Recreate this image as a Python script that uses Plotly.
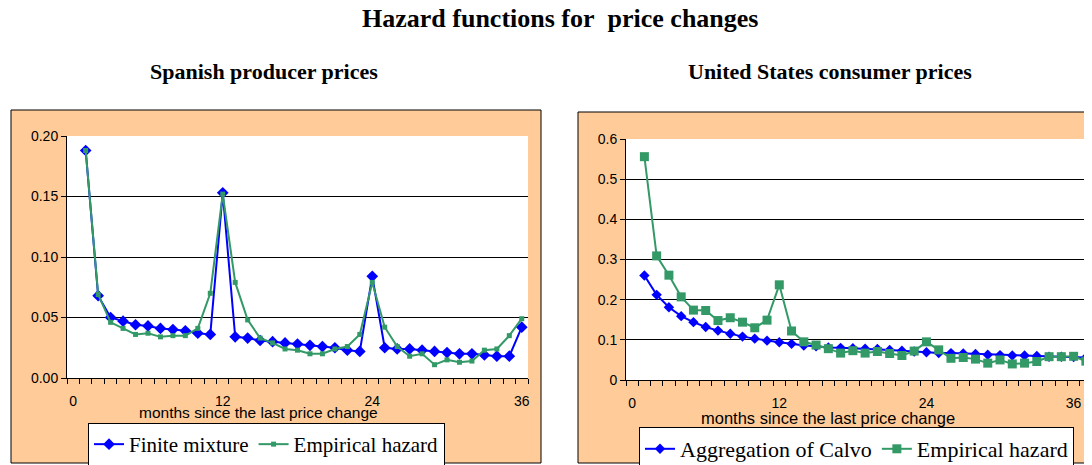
"""
Hazard functions for price changes: Spanish PPI vs US CPI, two Excel-style panels.
"""

import plotly.graph_objects as go

# the page body has an 8px margin, so the figure is shrunk by that much
OFF = 8
W, H = 1092 - OFF, 465 - OFF

# ---- data -------------------------------------------------------------
months_es = list(range(1, 37))
finite_mixture = [
    0.188, 0.068, 0.050, 0.047, 0.044, 0.043, 0.041, 0.040, 0.039, 0.037,
    0.036, 0.153, 0.034, 0.033, 0.031, 0.030, 0.029, 0.028, 0.027, 0.026,
    0.025, 0.023, 0.022, 0.084, 0.025, 0.024, 0.024, 0.023, 0.022, 0.021,
    0.020, 0.020, 0.019, 0.018, 0.018, 0.042,
]
empirical_es = [
    0.188, 0.069, 0.046, 0.041, 0.036, 0.037, 0.034, 0.035, 0.035, 0.041,
    0.070, 0.152, 0.079, 0.048, 0.033, 0.029, 0.024, 0.023, 0.020, 0.020,
    0.024, 0.026, 0.036, 0.079, 0.042, 0.026, 0.018, 0.020, 0.011, 0.015,
    0.013, 0.014, 0.023, 0.024, 0.035, 0.049,
]

months_us = list(range(1, 38))
calvo_agg = [
    0.260, 0.212, 0.181, 0.159, 0.144, 0.132, 0.123, 0.115, 0.108, 0.103,
    0.098, 0.094, 0.090, 0.086, 0.084, 0.081, 0.080, 0.079, 0.078, 0.077,
    0.075, 0.073, 0.071, 0.069, 0.067, 0.067, 0.066, 0.065, 0.063, 0.062,
    0.061, 0.061, 0.060, 0.058, 0.058, 0.057, 0.056,
]
empirical_us = [
    0.556, 0.309, 0.261, 0.207, 0.174, 0.173, 0.148, 0.155, 0.144, 0.130,
    0.149, 0.237, 0.122, 0.095, 0.087, 0.078, 0.067, 0.073, 0.067, 0.071,
    0.066, 0.061, 0.072, 0.095, 0.075, 0.054, 0.056, 0.052, 0.042, 0.050,
    0.040, 0.042, 0.046, 0.058, 0.058, 0.059, 0.047,
]

x_ticks = [0, 12, 24, 36]
y_ticks_es = [0.0, 0.05, 0.10, 0.15, 0.20]
y_ticks_us = [0, 0.1, 0.2, 0.3, 0.4, 0.5, 0.6]


def px_x(v):
    return (v - OFF) / W


def px_y(v):
    return 1 - (v - OFF) / H


BLUE = "#0000FF"
GREEN = "#339966"
ORANGE = "#FFCC99"
SANS = "Arial, Liberation Sans, sans-serif"
SERIF = "Times New Roman, Liberation Serif, serif"

fig = go.Figure()

fig.add_trace(go.Scatter(
    x=months_es, y=finite_mixture, name="Finite mixture", mode="lines+markers",
    line=dict(color=BLUE, width=2), marker=dict(symbol="diamond", size=9, color=BLUE),
    xaxis="x", yaxis="y", legend="legend",
))
fig.add_trace(go.Scatter(
    x=months_es, y=empirical_es, name="Empirical hazard", mode="lines+markers",
    line=dict(color=GREEN, width=2), marker=dict(symbol="square", size=5, color=GREEN),
    xaxis="x", yaxis="y", legend="legend",
))
fig.add_trace(go.Scatter(
    x=months_us, y=calvo_agg, name="Aggregation of Calvo", mode="lines+markers",
    line=dict(color=BLUE, width=2), marker=dict(symbol="diamond", size=8, color=BLUE),
    xaxis="x2", yaxis="y2", legend="legend2",
))
fig.add_trace(go.Scatter(
    x=months_us, y=empirical_us, name="Empirical hazard", mode="lines+markers",
    line=dict(color=GREEN, width=2), marker=dict(symbol="square", size=9, color=GREEN),
    xaxis="x2", yaxis="y2", legend="legend2",
))

xaxis_common = dict(
    tickmode="array", tickvals=x_ticks, ticktext=[str(t) for t in x_ticks],
    ticks="", showgrid=False, zeroline=False, automargin=False,
    showline=True, linecolor="black", linewidth=1,
    minor=dict(tickmode="linear", tick0=-0.5, dtick=1, ticks="outside",
               ticklen=5, tickcolor="black", showgrid=False),
    ticklabelstandoff=10,
    tickfont=dict(family=SANS, size=14, color="black"),
)
yaxis_common = dict(
    tickmode="array", ticks="outside", ticklen=5, tickcolor="black",
    showgrid=True, gridcolor="black", gridwidth=1, zeroline=False, automargin=False,
    showline=True, linecolor="black", linewidth=1,
    tickfont=dict(family=SANS, size=14, color="black"),
)

# orange chart areas and white plot areas (pixel positions)
shapes = [
    dict(type="rect", xref="paper", yref="paper", layer="below",
         x0=px_x(11), x1=px_x(541), y0=px_y(463), y1=px_y(110),
         fillcolor=ORANGE, line=dict(color="black", width=1)),
    dict(type="rect", xref="paper", yref="paper", layer="below",
         x0=px_x(578), x1=px_x(1100), y0=px_y(463), y1=px_y(112),
         fillcolor=ORANGE, line=dict(color="black", width=1)),
    dict(type="rect", xref="paper", yref="paper", layer="below",
         x0=px_x(67), x1=px_x(528), y0=px_y(378), y1=px_y(136),
         fillcolor="white", line=dict(width=0)),
    dict(type="rect", xref="paper", yref="paper", layer="below",
         x0=px_x(626), x1=px_x(1086), y0=px_y(380), y1=px_y(139),
         fillcolor="white", line=dict(width=0)),
]


def label(text, x, y, family, size):
    return dict(text=text, x=px_x(x), y=px_y(y), xref="paper", yref="paper",
                showarrow=False, xanchor="center", yanchor="middle",
                font=dict(family=family, size=size, color="black"))


annotations = [
    label("<b>Hazard functions for&nbsp; price changes</b>", 560, 19, SERIF, 26),
    label("<b>Spanish producer prices</b>", 264, 71, SERIF, 22),
    label("<b>United States consumer prices</b>", 830, 71, SERIF, 22),
    label("months since the last price change", 258, 412, SANS, 15.5),
    label("months since the last price change", 828, 418, SANS, 16.5),
]

legend_common = dict(
    orientation="h", xanchor="left", yanchor="top",
    bgcolor="white", bordercolor="black", borderwidth=1,
    itemwidth=30, tracegroupgap=0,
)

fig.update_layout(
    width=W, height=H,
    margin=dict(l=0, r=0, t=0, b=0, autoexpand=False),
    paper_bgcolor="white",
    plot_bgcolor="rgba(0,0,0,0)",
    showlegend=True,
    xaxis=dict(xaxis_common, domain=[px_x(67), px_x(528)], range=[-0.5, 36.5], anchor="y"),
    yaxis=dict(yaxis_common, domain=[px_y(378), px_y(136)], range=[0, 0.2],
               tickvals=y_ticks_es, tickformat=".2f", anchor="x"),
    xaxis2=dict(xaxis_common, domain=[px_x(626), 1.0], range=[-0.5, 37.5], anchor="y2"),
    yaxis2=dict(yaxis_common, domain=[px_y(380), px_y(139)], range=[0, 0.6],
                tickvals=y_ticks_us, ticktext=["0", "0.1", "0.2", "0.3", "0.4", "0.5", "0.6"],
                anchor="x2"),
    legend=dict(legend_common, x=px_x(88), y=px_y(423),
                font=dict(family=SERIF, size=21, color="black")),
    legend2=dict(legend_common, x=px_x(639), y=px_y(427),
                 font=dict(family=SERIF, size=22, color="black")),
    shapes=shapes,
    annotations=annotations,
)

fig.write_html("out.html")
